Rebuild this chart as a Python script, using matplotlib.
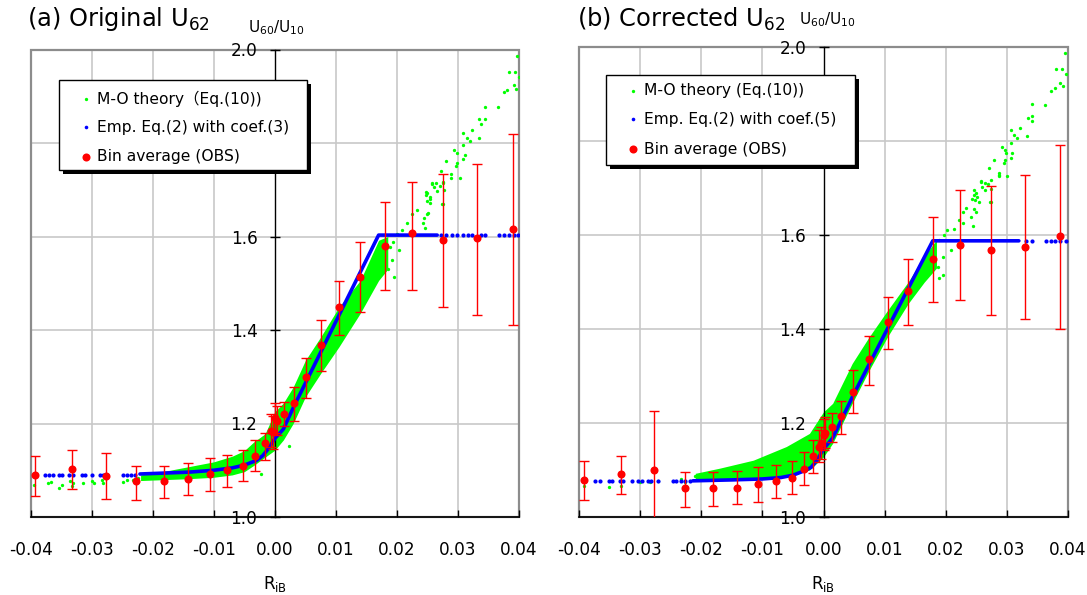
import matplotlib.pyplot as plt
from matplotlib.lines import Line2D
from matplotlib.patches import Rectangle

plt.rcParams['font.family'] = ['DejaVu Sans', 'Noto Sans CJK JP']
plt.rcParams['mathtext.fontset'] = 'dejavusans'

W, H = 1087, 595

x_ticks = [-0.04, -0.03, -0.02, -0.01, 0.0, 0.01, 0.02, 0.03, 0.04]
x_tick_labels = ["-0.04", "-0.03", "-0.02", "-0.01", "0.00", "0.01", "0.02", "0.03", "0.04"]
y_ticks = [1.0, 1.2, 1.4, 1.6, 1.8, 2.0]
# the 1.8 label sits under the legend box in the original, so it is left blank
y_tick_labels = ["1.0", "1.2", "1.4", "1.6", "", "2.0"]

# ---- (a) original U62 ----
bin_x_a = [-0.0393, -0.0333, -0.0277, -0.0227, -0.0181, -0.0142, -0.0107, -0.0078, -0.0052,
           -0.0032, -0.0016, -0.0007, -0.0003, 0.0000, 0.0004, 0.0015, 0.0031, 0.0051,
           0.0075, 0.0105, 0.0140, 0.0180, 0.0225, 0.0276, 0.0331, 0.0390]
bin_y_a = [1.089, 1.102, 1.088, 1.076, 1.076, 1.081, 1.092, 1.100, 1.109, 1.131, 1.158, 1.185,
           1.181, 1.211, 1.206, 1.220, 1.243, 1.299, 1.368, 1.449, 1.513, 1.580, 1.607, 1.593,
           1.596, 1.616]
bin_hi_a = [1.131, 1.144, 1.137, 1.110, 1.110, 1.116, 1.126, 1.132, 1.143, 1.165, 1.180, 1.220,
            1.215, 1.244, 1.238, 1.245, 1.278, 1.340, 1.422, 1.505, 1.589, 1.674, 1.716, 1.733,
            1.756, 1.819]
bin_lo_a = [1.044, 1.059, 1.039, 1.037, 1.041, 1.046, 1.056, 1.065, 1.078, 1.098, 1.122, 1.150,
            1.146, 1.180, 1.175, 1.195, 1.206, 1.254, 1.313, 1.389, 1.439, 1.485, 1.485, 1.449,
            1.433, 1.410]

emp_x_a = [-0.0221, -0.018, -0.014, -0.010, -0.007, -0.005, -0.003, -0.002, -0.001, 0.000,
           0.0014, 0.0031, 0.0170, 0.0266]
emp_y_a = [1.092, 1.094, 1.096, 1.100, 1.105, 1.111, 1.121, 1.131, 1.147, 1.168, 1.188, 1.236,
           1.603, 1.603]
emp_tail_left_a = [-0.0395, -0.0377, -0.0370, -0.0363, -0.0353, -0.0349, -0.0337, -0.0330,
                   -0.0316, -0.0311, -0.0300, -0.0287, -0.0281, -0.0275, -0.0249, -0.0243,
                   -0.0235, -0.0229]
emp_tail_right_a = [0.0272, 0.0280, 0.0290, 0.0298, 0.0309, 0.0317, 0.0323, 0.0337, 0.0345,
                    0.0367, 0.0375, 0.0383, 0.0391, 0.0399]
emp_low_a, emp_high_a = 1.089, 1.603

mo_band_x_a = [-0.022, -0.018, -0.014, -0.010, -0.007, -0.005, -0.0035, -0.0016, 0.000, 0.0014,
               0.003, 0.005, 0.0075, 0.0105, 0.014, 0.017, 0.0185]
mo_band_hi_a = [1.090, 1.098, 1.108, 1.118, 1.130, 1.142, 1.160, 1.178, 1.225, 1.244, 1.278,
                1.335, 1.385, 1.449, 1.506, 1.592, 1.600]
mo_band_lo_a = [1.078, 1.080, 1.082, 1.085, 1.090, 1.097, 1.110, 1.128, 1.143, 1.165, 1.200,
                1.257, 1.307, 1.364, 1.436, 1.506, 1.530]
mo_pts_x_a = [-0.0395, -0.0372, -0.0367, -0.0353, -0.0349, -0.0336, -0.0333, -0.0330, -0.0314,
              -0.0300, -0.0297, -0.0284, -0.0281, -0.0248, -0.0243, -0.0232, -0.0224,
              -0.0022, 0.0024,
              0.0178, 0.0186, 0.0192, 0.0196, 0.0189, 0.0194, 0.0200, 0.0203, 0.0208, 0.0216,
              0.0225, 0.0233, 0.0249, 0.0249, 0.0255, 0.0257, 0.0274, 0.0276,
              0.0242, 0.0244, 0.0246, 0.0251, 0.0275, 0.0255, 0.0249, 0.0255, 0.0248, 0.0248,
              0.0266, 0.0261, 0.0264, 0.0258, 0.0277, 0.0271, 0.0275, 0.0273, 0.0289, 0.0289,
              0.0303, 0.0281, 0.0296, 0.0298, 0.0308, 0.0312, 0.0298, 0.0294, 0.0308, 0.0308,
              0.0319, 0.0315, 0.0323, 0.0335, 0.0338, 0.0344, 0.0335, 0.0344, 0.0365, 0.0381,
              0.0375, 0.0395, 0.0391, 0.0400, 0.0393, 0.0383, 0.0397]
mo_pts_y_a = [1.068, 1.072, 1.074, 1.063, 1.068, 1.077, 1.066, 1.072, 1.073, 1.077, 1.073,
              1.079, 1.072, 1.075, 1.079, 1.079, 1.083,
              1.092, 1.152,
              1.535, 1.531, 1.549, 1.513, 1.578, 1.588, 1.606, 1.571, 1.613, 1.628,
              1.649, 1.656, 1.649, 1.692, 1.681, 1.713, 1.670, 1.716,
              1.628, 1.640, 1.619, 1.650, 1.669, 1.672, 1.677, 1.684, 1.688, 1.695,
              1.697, 1.706, 1.714, 1.714, 1.700, 1.709, 1.714, 1.740, 1.725, 1.734,
              1.725, 1.761, 1.750, 1.758, 1.766, 1.774, 1.778, 1.786, 1.795, 1.821,
              1.804, 1.811, 1.827, 1.811, 1.841, 1.852, 1.852, 1.878, 1.878, 1.914,
              1.909, 1.916, 1.925, 1.942, 1.952, 1.952, 1.986]

# ---- (b) corrected U62 ----
bin_x_b = [-0.0392, -0.0332, -0.0277, -0.0227, -0.0181, -0.0142, -0.0107, -0.0077, -0.0052,
           -0.0032, -0.0017, -0.0008, -0.0004, 0.0000, 0.0002, 0.0014, 0.0029, 0.0049,
           0.0075, 0.0105, 0.0139, 0.0179, 0.0223, 0.0275, 0.0330, 0.0388]
bin_y_b = [1.078, 1.091, 1.099, 1.061, 1.061, 1.062, 1.070, 1.076, 1.083, 1.103, 1.129, 1.150,
           1.158, 1.175, 1.179, 1.191, 1.215, 1.266, 1.336, 1.415, 1.481, 1.550, 1.580, 1.568,
           1.575, 1.598]
bin_hi_b = [1.120, 1.130, 1.225, 1.095, 1.095, 1.097, 1.107, 1.111, 1.119, 1.139, 1.164, 1.185,
            1.192, 1.208, 1.212, 1.222, 1.248, 1.313, 1.385, 1.469, 1.550, 1.639, 1.696, 1.704,
            1.729, 1.793]
bin_lo_b = [1.037, 1.049, 0.995, 1.021, 1.023, 1.027, 1.031, 1.041, 1.050, 1.069, 1.093, 1.117,
            1.124, 1.142, 1.146, 1.160, 1.177, 1.222, 1.281, 1.357, 1.409, 1.457, 1.462, 1.431,
            1.421, 1.400]

emp_x_b = [-0.0214, -0.015, -0.010, -0.007, -0.005, -0.003, -0.002, -0.001, 0.000, 0.0015,
           0.0049, 0.0179, 0.0320]
emp_y_b = [1.077, 1.079, 1.081, 1.084, 1.089, 1.099, 1.106, 1.122, 1.145, 1.168, 1.260, 1.588,
           1.588]
emp_tail_left_b = [-0.0393, -0.0374, -0.0366, -0.0352, -0.0347, -0.0334, -0.0328, -0.0314,
                   -0.0304, -0.0298, -0.0287, -0.0282, -0.0271, -0.0247, -0.0241, -0.0233,
                   -0.0227, -0.0219]
emp_tail_right_b = [0.0331, 0.0342, 0.0364, 0.0372, 0.0380, 0.0388, 0.0397]
emp_low_b, emp_high_b = 1.076, 1.588

mo_band_x_b = [-0.021, -0.017, -0.0115, -0.0061, -0.0023, 0.000, 0.0015, 0.0047, 0.0075,
               0.0105, 0.0139, 0.0165, 0.0185]
mo_band_hi_b = [1.093, 1.104, 1.121, 1.150, 1.178, 1.224, 1.242, 1.327, 1.384, 1.440, 1.501,
                1.555, 1.590]
mo_band_lo_b = [1.079, 1.079, 1.079, 1.086, 1.100, 1.128, 1.157, 1.242, 1.313, 1.384, 1.455,
                1.500, 1.530]
mo_pts_x_b = [-0.0393, -0.0351, -0.0331, -0.0301, -0.0284, -0.0271, -0.0233, -0.0227, -0.0211,
              0.0190, 0.0195, 0.0187, 0.0195, 0.0209, 0.0190, 0.0198, 0.0203, 0.0214, 0.0222,
              0.0228, 0.0233, 0.0247, 0.0244, 0.0250, 0.0258, 0.0274, 0.0288, 0.0299,
              0.0229, 0.0241, 0.0245, 0.0250, 0.0273, 0.0255, 0.0248, 0.0252, 0.0247, 0.0247,
              0.0264, 0.0259, 0.0264, 0.0258, 0.0275, 0.0270, 0.0274, 0.0271, 0.0288, 0.0288,
              0.0301, 0.0279, 0.0295, 0.0297, 0.0307, 0.0309, 0.0297, 0.0293, 0.0307, 0.0307,
              0.0312, 0.0317, 0.0322, 0.0334, 0.0342, 0.0342, 0.0335, 0.0342, 0.0363, 0.0379,
              0.0373, 0.0393, 0.0388, 0.0398, 0.0391, 0.0381, 0.0395]
mo_pts_y_b = [1.066, 1.063, 1.067, 1.075, 1.075, 1.077, 1.080, 1.075, 1.087,
              1.508, 1.515, 1.533, 1.554, 1.568, 1.589, 1.600, 1.611, 1.614, 1.632,
              1.650, 1.657, 1.655, 1.678, 1.689, 1.713, 1.671, 1.728, 1.774,
              1.625, 1.639, 1.619, 1.650, 1.670, 1.671, 1.674, 1.681, 1.685, 1.696,
              1.696, 1.703, 1.711, 1.716, 1.699, 1.710, 1.717, 1.742, 1.726, 1.733,
              1.726, 1.760, 1.753, 1.760, 1.765, 1.774, 1.781, 1.788, 1.796, 1.823,
              1.813, 1.806, 1.828, 1.811, 1.843, 1.853, 1.850, 1.879, 1.877, 1.914,
              1.907, 1.917, 1.925, 1.944, 1.953, 1.953, 1.987]

GREEN, BLUE, RED = '#00ff00', '#0000ff', '#ff0000'


def px(x, y):
    """Pixel position in the picture -> figure fraction."""
    return x / W, 1 - y / H


def draw_panel(ax, bx, by, bhi, blo, ex, ey, tail_l, tail_r, low, high,
               gx, ghi, glo, gpx, gpy, ylabel_pos):
    ax.set_xlim(-0.04, 0.04)
    ax.set_ylim(1.0, 2.0)

    for xv in x_ticks:
        if xv != 0.0:
            ax.axvline(xv, color='#c8c8c8', lw=1.2, zorder=0)
    for yv in y_ticks[1:-1]:
        ax.axhline(yv, color='#c8c8c8', lw=1.2, zorder=0)

    # M-O theory cloud
    ax.fill_between(gx, glo, ghi, color=GREEN, lw=0, zorder=2)
    ax.plot(gpx, gpy, 'o', color=GREEN, ms=2.4, mew=0, zorder=2)

    # empirical equation
    ax.plot(ex, ey, '-', color=BLUE, lw=2.6, zorder=3, solid_capstyle='round')
    ax.plot(tail_l, [low] * len(tail_l), 'o', color=BLUE, ms=3.0, mew=0, zorder=3)
    ax.plot(tail_r, [high] * len(tail_r), 'o', color=BLUE, ms=3.0, mew=0, zorder=3)

    # bin averages
    err = [[y - lo for y, lo in zip(by, blo)], [hi - y for y, hi in zip(by, bhi)]]
    ax.errorbar(bx, by, yerr=err, fmt='none', ecolor=RED, elinewidth=1.0,
                capsize=3.3, capthick=1.0, zorder=4)
    ax.plot(bx, by, 'o', color=RED, ms=5.8, mew=0, zorder=5)

    # axes: y-axis through R_iB = 0, grey box around
    for side in ('top', 'right'):
        ax.spines[side].set_visible(False)
    ax.spines['left'].set_position(('data', 0))
    ax.spines['left'].set_color('black')
    ax.spines['left'].set_linewidth(1.0)
    ax.spines['bottom'].set_color('black')
    ax.spines['bottom'].set_linewidth(1.2)
    ax.add_patch(Rectangle((0, 0), 1, 1, transform=ax.transAxes, fill=False,
                           edgecolor='#8c8c8c', lw=1.6, clip_on=False, zorder=1))

    ax.set_xticks(x_ticks)
    ax.set_xticklabels(x_tick_labels)
    ax.set_yticks(y_ticks)
    ax.set_yticklabels(y_tick_labels)
    ax.tick_params(axis='x', direction='in', length=5, width=1, pad=17, labelsize=12.2)
    ax.tick_params(axis='y', direction='inout', length=7, width=1, pad=9, labelsize=12.2)
    ax.set_xlabel(r'R$_{\mathrm{iB}}$', fontsize=12, labelpad=11)
    ax.text(ylabel_pos[0], ylabel_pos[1], r'U$_{\mathrm{60}}$/U$_{\mathrm{10}}$',
            transform=ax.get_xaxis_transform(), ha='center', va='center', fontsize=11)


def draw_legend(fig, box, rows, marker_x, text_x, labels):
    x0, y0, x1, y1 = box
    sx, sy = px(x0 + 4, y1 + 4)
    fx0, fy0 = px(x0, y1)
    w = (x1 - x0) / W
    h = (y1 - y0) / H
    fig.add_artist(Rectangle((sx, sy), w, h, transform=fig.transFigure,
                             facecolor='black', edgecolor='black', lw=0, zorder=10))
    fig.add_artist(Rectangle((fx0, fy0), w, h, transform=fig.transFigure,
                             facecolor='white', edgecolor='black', lw=1.0, zorder=11))
    styles = [(GREEN, 2.4), (BLUE, 2.6), (RED, 5.8)]
    for ry, (col, ms), lab in zip(rows, styles, labels):
        mx, my = px(marker_x, ry)
        fig.add_artist(Line2D([mx], [my], transform=fig.transFigure, marker='o',
                              color=col, ms=ms, mew=0, zorder=12))
        tx, ty = px(text_x, ry)
        fig.text(tx, ty, lab, ha='left', va='center', fontsize=11.2, zorder=12)


fig = plt.figure(figsize=(W / 100, H / 100), dpi=100)
ax_a = fig.add_axes([30.7 / W, 1 - 517 / H, 488.3 / W, 467.5 / H])
ax_b = fig.add_axes([579.3 / W, 1 - 517 / H, 488.4 / W, 469.7 / H])

draw_panel(ax_a, bin_x_a, bin_y_a, bin_hi_a, bin_lo_a, emp_x_a, emp_y_a,
           emp_tail_left_a, emp_tail_right_a, emp_low_a, emp_high_a,
           mo_band_x_a, mo_band_hi_a, mo_band_lo_a, mo_pts_x_a, mo_pts_y_a,
           (0.0003, 1.046))
draw_panel(ax_b, bin_x_b, bin_y_b, bin_hi_b, bin_lo_b, emp_x_b, emp_y_b,
           emp_tail_left_b, emp_tail_right_b, emp_low_b, emp_high_b,
           mo_band_x_b, mo_band_hi_b, mo_band_lo_b, mo_pts_x_b, mo_pts_y_b,
           (0.0006, 1.058))

draw_legend(fig, (59.3, 80, 306.7, 170), [99.3, 127.3, 156.7], 86, 97,
            ["M-O theory（Eq.(10))", "Emp. Eq.(2) with coef.(3)", "Bin average (OBS)"])
draw_legend(fig, (606, 75, 855, 165), [91, 119.3, 149.3], 633.3, 644.3,
            ["M-O theory (Eq.(10))", "Emp. Eq.(2) with coef.(5)", "Bin average (OBS)"])

tx, ty = px(27, 19)
fig.text(tx, ty, r'(a) Original U$_{\mathrm{62}}$', ha='left', va='center', fontsize=17.4)
tx, ty = px(577, 19)
fig.text(tx, ty, r'(b) Corrected U$_{\mathrm{62}}$', ha='left', va='center', fontsize=17.4)

fig.savefig('out.png', dpi=100)
